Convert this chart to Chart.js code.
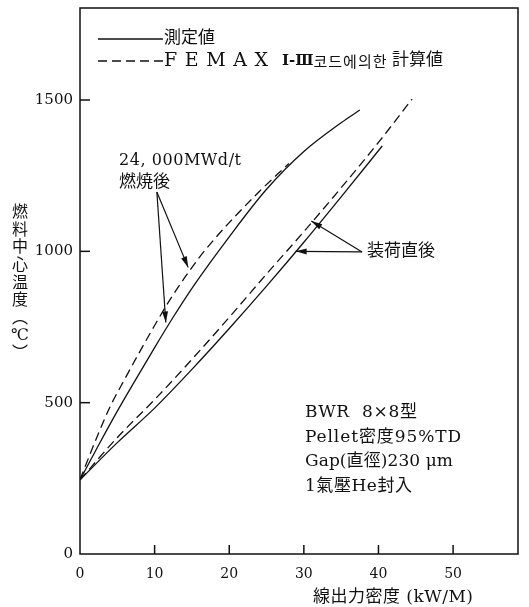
<!DOCTYPE html>
<html>
<head>
<meta charset="utf-8">
<script src="https://cdn.jsdelivr.net/npm/chart.js@4.4.1/dist/chart.umd.min.js"></script>
<style>
html,body{margin:0;padding:0;background:#fff;}
#wrap{position:relative;width:529px;height:607px;}
</style>
</head>
<body>
<div id="wrap"><canvas id="c"></canvas></div>
<script>
// ---- data ----
const burnedMeasX = [0, 2.5, 5, 7.5, 10, 12.5, 15, 20, 25, 30, 35, 37.5];
const burnedMeasT = [245, 360, 472, 578, 682, 783, 878, 1048, 1205, 1330, 1425, 1467];
const burnedCalcX = [0, 2, 4, 6, 8, 10, 12, 14, 16, 18, 20, 24, 28];
const burnedCalcT = [245, 370, 485, 578, 668, 755, 838, 912, 980, 1040, 1095, 1197, 1290];
const freshMeasX = [0, 5, 10, 15, 20, 25, 30, 35, 40.5];
const freshMeasT = [245, 368, 482, 610, 745, 885, 1030, 1180, 1348];
const freshCalcX = [0, 5, 10, 15, 20, 25, 30, 35, 40, 44.5];
const freshCalcT = [245, 385, 510, 643, 782, 925, 1065, 1210, 1360, 1503];

const xTicks = [0, 10, 20, 30, 40, 50];
const yTicks = [0, 500, 1000, 1500];
const legendLabels = ['測定値', 'FEMAX', 'Ⅰ-Ⅲ', '코드에의한', '計算値'];
const burnedLabel = ['24, 000MWd/t', '燃焼後'];
const freshLabel = '装荷直後';
const noteLines = ['BWR  8×8型', 'Pellet密度95%TD', 'Gap(直徑)230 μm', '1氣壓He封入'];
const xTitle = '線出力密度 (kW/M)';
const yTitleChars = ['燃', '料', '中', '心', '温', '度', '︵', '℃', '︶'];

const FONT = '"DejaVu Serif", "Noto Sans CJK JP", serif';
const INK = '#111';

function pts(xs, ys) { return xs.map((x, i) => ({x: x, y: ys[i]})); }

const solid = [];
const dashed = [9, 5];

function fitText(ctx, txt, x, y, width) {
  ctx.letterSpacing = '0px';
  const w = ctx.measureText(txt).width;
  const n = Array.from(txt).length;
  const sp = Math.max(0, (width - w) / Math.max(1, n - 1));
  ctx.letterSpacing = sp.toFixed(2) + 'px';
  ctx.fillText(txt, x, y);
  ctx.letterSpacing = '0px';
}
function spreadChars(ctx, txt, x, y, width) {
  const chars = Array.from(txt);
  const step = width / chars.length;
  const oldAlign = ctx.textAlign;
  ctx.textAlign = 'center';
  chars.forEach((c, i) => ctx.fillText(c, x + step * (i + 0.5), y));
  ctx.textAlign = oldAlign;
}

const decor = {
  id: 'decor',
  afterDraw(chart) {
    const ctx = chart.ctx;
    const a = chart.chartArea;
    const xs = chart.scales.x, ys = chart.scales.y;
    ctx.save();
    ctx.strokeStyle = INK;
    ctx.fillStyle = INK;
    // frame
    ctx.lineWidth = 1.5;
    ctx.strokeRect(a.left, a.top, a.right - a.left, a.bottom - a.top);
    // inward ticks
    xTicks.forEach(v => {
      if (v === 0) return;
      const px = xs.getPixelForValue(v);
      ctx.beginPath(); ctx.moveTo(px, a.bottom); ctx.lineTo(px, a.bottom - 9); ctx.stroke();
    });
    yTicks.forEach(v => {
      if (v === 0) return;
      const py = ys.getPixelForValue(v);
      ctx.beginPath(); ctx.moveTo(a.left, py); ctx.lineTo(a.left + 10, py); ctx.stroke();
    });

    ctx.textBaseline = 'middle';
    ctx.textAlign = 'left';
    // legend
    ctx.lineWidth = 1.3;
    ctx.beginPath(); ctx.moveTo(98, 39); ctx.lineTo(163, 39); ctx.stroke();
    ctx.setLineDash(dashed);
    ctx.beginPath(); ctx.moveTo(98, 61); ctx.lineTo(163, 61); ctx.stroke();
    ctx.setLineDash([]);
    ctx.font = '17px ' + FONT;
    ctx.fillText(legendLabels[0], 164, 39);
    ctx.font = '19px ' + FONT;
    fitText(ctx, legendLabels[1], 164, 61, 104);
    ctx.font = 'bold 15px "DejaVu Serif", serif';
    fitText(ctx, legendLabels[2], 282, 61, 28);
    ctx.font = '15px "Noto Sans CJK KR", "Noto Sans CJK JP", sans-serif';
    spreadChars(ctx, legendLabels[3], 313, 61, 74);
    ctx.font = '17px ' + FONT;
    fitText(ctx, legendLabels[4], 392, 61, 50);

    // annotations
    const P = (x, y) => [xs.getPixelForValue(x), ys.getPixelForValue(y)];
    ctx.font = '16px ' + FONT;
    fitText(ctx, burnedLabel[0], 119, 161, 122);
    ctx.font = '17px ' + FONT;
    ctx.fillText(burnedLabel[1], 119, 183);
    ctx.fillText(freshLabel, 367, 252);
    ctx.font = '17px ' + FONT;
    const noteW = [112, 156, 148, 107];
    noteLines.forEach((t, i) => fitText(ctx, t, 305, 413 + i * 24.5, noteW[i]));

    function arrow(x0, y0, x1, y1) {
      ctx.lineWidth = 1.2;
      ctx.beginPath(); ctx.moveTo(x0, y0); ctx.lineTo(x1, y1); ctx.stroke();
      const ang = Math.atan2(y1 - y0, x1 - x0);
      const L = 11, W = 3;
      ctx.beginPath();
      ctx.moveTo(x1, y1);
      ctx.lineTo(x1 - L * Math.cos(ang) + W * Math.sin(ang), y1 - L * Math.sin(ang) - W * Math.cos(ang));
      ctx.lineTo(x1 - L * Math.cos(ang) - W * Math.sin(ang), y1 - L * Math.sin(ang) + W * Math.cos(ang));
      ctx.closePath(); ctx.fill();
    }
    let o = P(10.3, 1196);
    let t1 = P(11.5, 765), t2 = P(14.5, 947);
    arrow(o[0], o[1], t1[0], t1[1]);
    arrow(o[0], o[1], t2[0], t2[1]);
    o = P(37.8, 998);
    t1 = P(28.9, 1000); t2 = P(31.0, 1100);
    arrow(o[0], o[1], t1[0], t1[1]);
    arrow(o[0], o[1], t2[0], t2[1]);

    // axis titles
    ctx.font = '17px ' + FONT;
    fitText(ctx, xTitle, 313, 598, 160);
    ctx.textAlign = 'center';
    ctx.font = '16px ' + FONT;
    yTitleChars.forEach((ch, i) => ctx.fillText(ch, 20, 213 + i * 17.6));
    ctx.restore();
  }
};

const lineDS = (label, data, dash) => ({
  label: label,
  data: data,
  borderColor: INK,
  borderWidth: 1.3,
  borderDash: dash,
  pointRadius: 0,
  fill: false,
  cubicInterpolationMode: 'monotone'
});

new Chart(document.getElementById('c'), {
  type: 'line',
  data: {
    datasets: [
      lineDS('burned measured', pts(burnedMeasX, burnedMeasT), solid),
      lineDS('burned calculated', pts(burnedCalcX, burnedCalcT), dashed),
      lineDS('fresh measured', pts(freshMeasX, freshMeasT), solid),
      lineDS('fresh calculated', pts(freshCalcX, freshCalcT), dashed)
    ]
  },
  options: {
    responsive: true,
    maintainAspectRatio: false,
    animation: false,
    layout: {padding: {top: 8, right: 11, left: 0, bottom: 0}},
    plugins: {legend: {display: false}, tooltip: {enabled: false}},
    scales: {
      x: {
        type: 'linear', min: 0, max: 58.7,
        afterFit(s) { s.height = 53; s.paddingLeft = 0; s.paddingRight = 0; },
        afterBuildTicks(s) { s.ticks = xTicks.map(v => ({value: v})); },
        grid: {display: false, drawTicks: false},
        border: {display: false},
        ticks: {padding: 12, color: INK, font: {family: FONT, size: 14}, maxRotation: 0,
                callback: v => String(v)}
      },
      y: {
        type: 'linear', min: 0, max: 1804,
        afterFit(s) { s.width = 80; s.paddingTop = 0; s.paddingBottom = 0; },
        afterBuildTicks(s) { s.ticks = yTicks.map(v => ({value: v})); },
        grid: {display: false, drawTicks: false},
        border: {display: false},
        ticks: {padding: 7, color: INK, font: {family: FONT, size: 15},
                callback: v => String(v)}
      }
    }
  },
  plugins: [decor]
});
</script>
</body>
</html>
